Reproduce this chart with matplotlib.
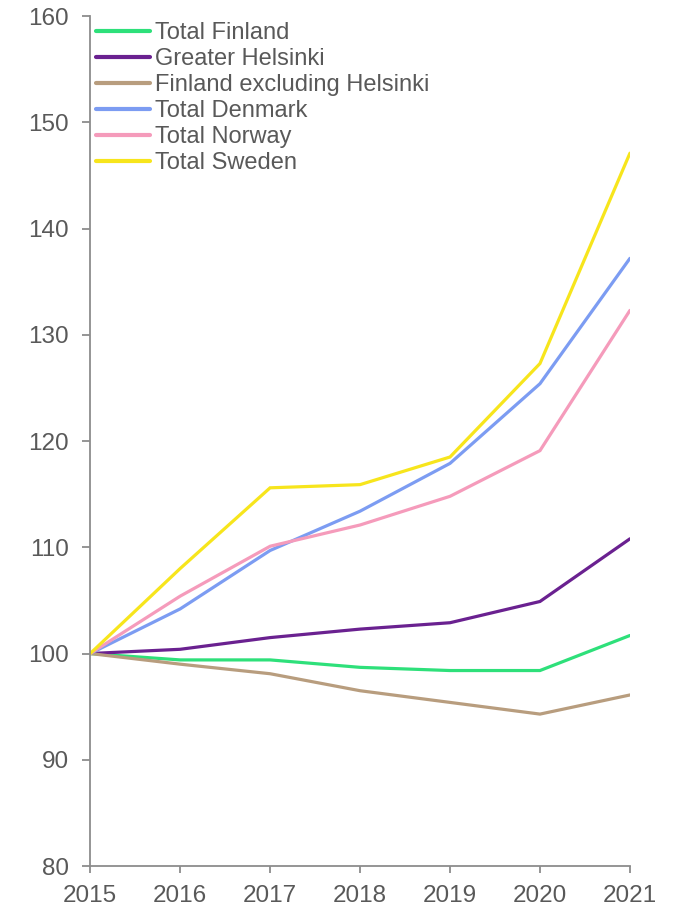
import matplotlib.pyplot as plt

plt.rcParams['font.family'] = ['Liberation Sans', 'DejaVu Sans']

# Index, 2015 = 100
years = [2015, 2016, 2017, 2018, 2019, 2020, 2021]

total_finland = [100, 99.4, 99.4, 98.7, 98.4, 98.4, 101.7]
greater_helsinki = [100, 100.4, 101.5, 102.3, 102.9, 104.9, 110.8]
finland_excl_helsinki = [100, 99.0, 98.1, 96.5, 95.4, 94.3, 96.1]
total_denmark = [100, 104.2, 109.7, 113.4, 117.9, 125.4, 137.2]
total_norway = [100, 105.4, 110.1, 112.1, 114.8, 119.1, 132.3]
total_sweden = [100, 108.0, 115.6, 115.9, 118.5, 127.3, 147.1]

series = [
    ("Total Finland", total_finland, "#2ee07a"),
    ("Greater Helsinki", greater_helsinki, "#6a2190"),
    ("Finland excluding Helsinki", finland_excl_helsinki, "#b89d7e"),
    ("Total Denmark", total_denmark, "#7c9cf2"),
    ("Total Norway", total_norway, "#f59bbb"),
    ("Total Sweden", total_sweden, "#f7e51c"),
]

grey = "#595959"
axis_grey = "#8c8c8c"

fig = plt.figure(figsize=(6.73, 9.07), dpi=100)
ax = fig.add_axes([0.134, 0.0452, 0.802, 0.937])

for name, vals, col in series:
    ax.plot(years, vals, color=col, linewidth=2.3, label=name,
            solid_capstyle='round', solid_joinstyle='miter')

ax.set_xlim(2015, 2021)
ax.set_ylim(80, 160)
ax.set_xticks(years)
ax.set_yticks(range(80, 161, 10))

for side in ("top", "right"):
    ax.spines[side].set_visible(False)
for side in ("left", "bottom"):
    ax.spines[side].set_color(axis_grey)
    ax.spines[side].set_linewidth(1.3)

ax.tick_params(axis='both', colors=axis_grey, labelcolor=grey,
               labelsize=17.5, length=5, width=1.3, direction='out')
ax.tick_params(axis='x', pad=8.5)
ax.tick_params(axis='y', length=5.8, pad=9.4)

leg = ax.legend(loc='upper left', bbox_to_anchor=(0.0, 1.0), frameon=False,
                fontsize=17, handlelength=2.3, handletextpad=0.2,
                labelspacing=0.17, borderaxespad=0.1, borderpad=0.15)
for t in leg.get_texts():
    t.set_color(grey)
for h in leg.get_lines():
    h.set_linewidth(3)

fig.savefig("out.png", dpi=100)
